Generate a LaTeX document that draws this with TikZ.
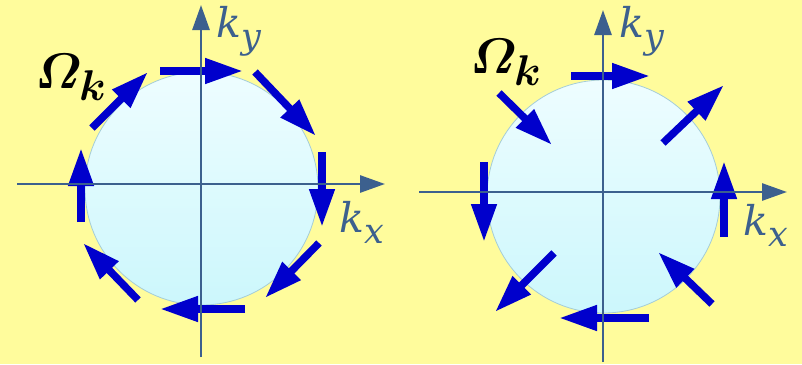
\RequirePackage{fix-cm}
\documentclass[tikz,border=0pt]{standalone}
\usepackage{amsmath,bm}
\usepackage{fontspec}
\newfontfamily\kfont{DejaVu Serif}
\usetikzlibrary{arrows.meta}
\definecolor{bgyellow}{RGB}{255,252,156}
\definecolor{arrowblue}{RGB}{0,0,204}
\definecolor{axisblue}{RGB}{60,96,142}
\definecolor{disctop}{RGB}{238,253,255}
\definecolor{discbot}{RGB}{204,247,252}
\definecolor{discedge}{RGB}{165,205,215}
\tikzset{
  bluearrow/.style={draw=arrowblue, line width=7.5pt, -{Triangle[length=38pt,width=24pt]}},
  axisline/.style={draw=axisblue, line width=2.8pt, -{Triangle[length=25pt,width=17pt]}},
  disc/.style={top color=disctop, bottom color=discbot, draw=discedge, line width=0.8pt},
  omegalabel/.style={anchor=base west, inner sep=0pt, font=\fontsize{50}{54}\selectfont},
  klabel/.style={anchor=base west, inner sep=0pt, text=axisblue, font=\kfont\itshape\fontsize{41}{44}\selectfont}
}
\newcommand{\omk}{$\bm{\varOmega}_{\mbox{\fontsize{43}{43}\selectfont$\bm{k}$}}$}
\newcommand{\ksub}[1]{k\raisebox{-11pt}{\fontsize{35}{35}\selectfont #1}}
\begin{document}
\begin{tikzpicture}[x=1pt,y=-1pt]
\fill[bgyellow] (0,0) rectangle (802,364);
\useasboundingbox (0,0) rectangle (802,364);

% ---------- left panel ----------
\coordinate (Lc) at (201.5,188.5);
\shade[disc] (Lc) circle (116.5);
\coordinate (L1a) at (160,71);  \coordinate (L1b) at (243,71);
\coordinate (L2a) at (255,72);  \coordinate (L2b) at (316,136);
\coordinate (L3a) at (322,152); \coordinate (L3b) at (322,227);
\coordinate (L4a) at (319,243); \coordinate (L4b) at (265,298);
\coordinate (L5a) at (245,309); \coordinate (L5b) at (160,309);
\coordinate (L6a) at (138,300); \coordinate (L6b) at (83,243);
\coordinate (L7a) at (81,222);  \coordinate (L7b) at (81,148);
\coordinate (L8a) at (92,128);  \coordinate (L8b) at (148,72);
\foreach \i in {1,...,8} {\draw[bluearrow] (L\i a) -- (L\i b);}
\coordinate (Lxa) at (17,184);  \coordinate (Lxb) at (385,184);
\coordinate (Lya) at (201,357); \coordinate (Lyb) at (201,5);
\draw[axisline] (Lxa) -- (Lxb);
\draw[axisline] (Lya) -- (Lyb);
\node[omegalabel] (Lom) at (35,88) {\omk};
\node[klabel] (Lky) at (216,37) {\ksub{y}};
\node[klabel] (Lkx) at (339,232) {\ksub{x}};

% ---------- right panel ----------
\coordinate (Rc) at (603.5,196.5);
\shade[disc] (Rc) circle (116.5);
\coordinate (R1a) at (571,76);  \coordinate (R1b) at (650,76);
\coordinate (R2a) at (663,143); \coordinate (R2b) at (724,85);
\coordinate (R3a) at (724,237); \coordinate (R3b) at (724,161);
\coordinate (R4a) at (712,304); \coordinate (R4b) at (658,252);
\coordinate (R5a) at (649,318); \coordinate (R5b) at (559,318);
\coordinate (R6a) at (554,253); \coordinate (R6b) at (495,312);
\coordinate (R7a) at (484,162); \coordinate (R7b) at (484,242);
\coordinate (R8a) at (499,93);  \coordinate (R8b) at (552,145);
\foreach \i in {1,...,8} {\draw[bluearrow] (R\i a) -- (R\i b);}
\coordinate (Rxa) at (419,192); \coordinate (Rxb) at (787,192);
\coordinate (Rya) at (603,362); \coordinate (Ryb) at (603,10);
\draw[axisline] (Rxa) -- (Rxb);
\draw[axisline] (Rya) -- (Ryb);
\node[omegalabel] (Rom) at (470,73) {\omk};
\node[klabel] (Rky) at (619,37) {\ksub{y}};
\node[klabel] (Rkx) at (743,235) {\ksub{x}};
\end{tikzpicture}
\end{document}
